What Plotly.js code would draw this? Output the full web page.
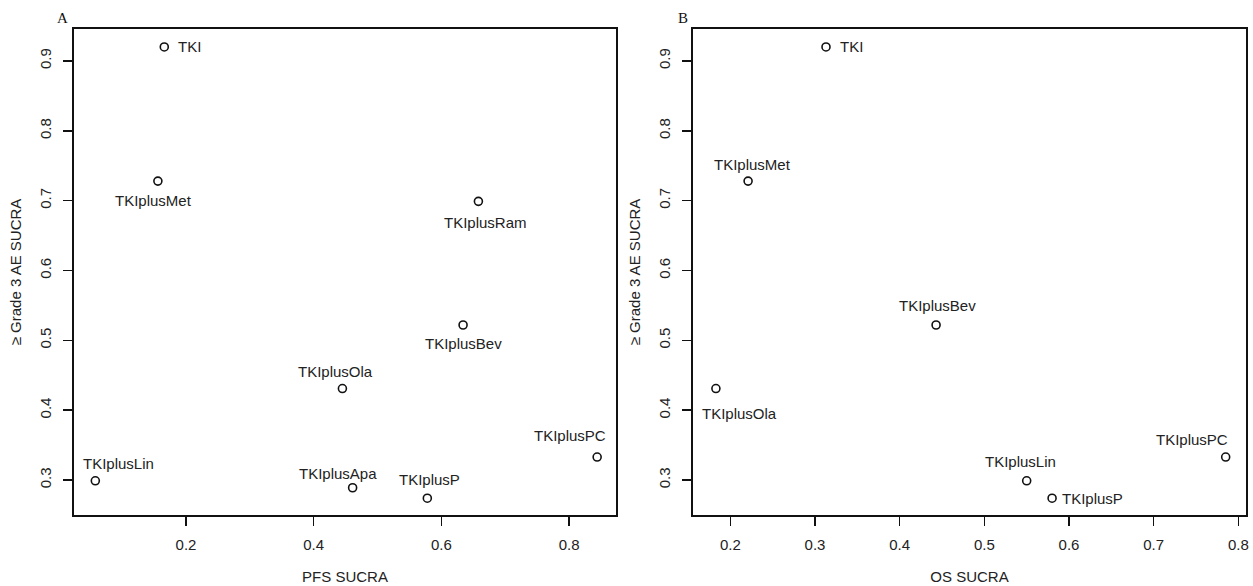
<!DOCTYPE html>
<html>
<head>
<meta charset="utf-8">
<script src="https://cdn.plot.ly/plotly-3.0.1.min.js"></script>
<style>html,body{margin:0;padding:0;background:#fff;}#chart{width:1253px;height:586px;}</style>
</head>
<body>
<div id="chart"></div>
<script>
// Panel A: PFS SUCRA vs >= Grade 3 AE SUCRA
const treatmentsA = ['TKI','TKIplusMet','TKIplusRam','TKIplusBev','TKIplusOla','TKIplusApa','TKIplusP','TKIplusPC','TKIplusLin'];
const pfsSucra   = [0.166, 0.156, 0.658, 0.634, 0.445, 0.461, 0.578, 0.844, 0.058];
const aeSucraA   = [0.920, 0.728, 0.699, 0.522, 0.431, 0.289, 0.274, 0.333, 0.299];

// Panel B: OS SUCRA vs >= Grade 3 AE SUCRA
const treatmentsB = ['TKI','TKIplusMet','TKIplusBev','TKIplusOla','TKIplusLin','TKIplusP','TKIplusPC'];
const osSucra     = [0.313, 0.221, 0.443, 0.183, 0.550, 0.580, 0.785];
const aeSucraB    = [0.920, 0.728, 0.522, 0.431, 0.299, 0.274, 0.333];

const xTicksA = [0.2, 0.4, 0.6, 0.8];
const xTicksB = [0.2, 0.3, 0.4, 0.5, 0.6, 0.7, 0.8];
const yTicks  = [0.3, 0.4, 0.5, 0.6, 0.7, 0.8, 0.9];

// label placement (pixel offsets from each point): [xanchor, xshift, yshift]
const placeA = {
  'TKI':        ['left', 12, 0],
  'TKIplusMet': ['center', -4, -19],
  'TKIplusRam': ['center', 7, -21],
  'TKIplusBev': ['center', 0, -19],
  'TKIplusOla': ['center', -7, 17],
  'TKIplusApa': ['center', -15, 14],
  'TKIplusP':   ['center', 2, 19],
  'TKIplusPC':  ['center', -27, 22],
  'TKIplusLin': ['center', 23, 17]
};
const placeB = {
  'TKI':        ['left', 12, 0],
  'TKIplusMet': ['center', 4, 17],
  'TKIplusBev': ['center', 1, 19],
  'TKIplusOla': ['center', 24, -25],
  'TKIplusLin': ['center', -6, 19],
  'TKIplusP':   ['left', 8, 0],
  'TKIplusPC':  ['center', -34, 18]
};

const txtFont = {family: 'Liberation Sans, Arial, sans-serif', size: 15, color: '#222'};

const markerStyle = {symbol: 'circle-open', size: 8, color: '#111', line: {width: 1.6, color: '#111'}};

const traces = [
  {x: pfsSucra, y: aeSucraA, text: treatmentsA, type: 'scatter', mode: 'markers', xaxis: 'x', yaxis: 'y',
   marker: markerStyle, hoverinfo: 'text+x+y', showlegend: false},
  {x: osSucra, y: aeSucraB, text: treatmentsB, type: 'scatter', mode: 'markers', xaxis: 'x2', yaxis: 'y2',
   marker: markerStyle, hoverinfo: 'text+x+y', showlegend: false}
];

const annotations = [];
treatmentsA.forEach((t, i) => {
  const p = placeA[t];
  annotations.push({x: pfsSucra[i], y: aeSucraA[i], xref: 'x', yref: 'y', text: t, showarrow: false,
    xanchor: p[0], xshift: p[1], yshift: p[2], font: txtFont});
});
treatmentsB.forEach((t, i) => {
  const p = placeB[t];
  annotations.push({x: osSucra[i], y: aeSucraB[i], xref: 'x2', yref: 'y2', text: t, showarrow: false,
    xanchor: p[0], xshift: p[1], yshift: p[2], font: txtFont});
});
annotations.push({x: -0.0102, y: 1.0226, xref: 'paper', yref: 'paper', text: 'A', showarrow: false,
  xanchor: 'center', yanchor: 'middle', font: {family: 'Liberation Serif, Times New Roman, serif', size: 15, color: '#111'}});
annotations.push({x: 0.5196, y: 1.0226, xref: 'paper', yref: 'paper', text: 'B', showarrow: false,
  xanchor: 'center', yanchor: 'middle', font: {family: 'Liberation Serif, Times New Roman, serif', size: 15, color: '#111'}});

const axisCommon = {
  showgrid: false, zeroline: false, showline: true, mirror: true, linecolor: '#111', linewidth: 2,
  ticks: 'outside', ticklen: 9, tickwidth: 1.5, tickcolor: '#111', tickfont: txtFont, ticklabelstandoff: 6
};

const layout = {
  width: 1253, height: 586,
  margin: {l: 74, r: 7, t: 29, b: 71},
  paper_bgcolor: '#fff', plot_bgcolor: '#fff',
  font: txtFont,
  xaxis: Object.assign({}, axisCommon, {domain: [0, 0.4625], range: [0.0246, 0.8736], tickvals: xTicksA,
    ticktext: xTicksA.map(String), title: {text: 'PFS SUCRA', font: txtFont, standoff: 19}}),
  yaxis: Object.assign({}, axisCommon, {domain: [0, 1], range: [0.25, 0.9457], tickvals: yTicks,
    ticktext: yTicks.map(String), tickangle: -90, anchor: 'x',
    title: {text: '≥ Grade 3 AE SUCRA', font: txtFont, standoff: 12}}),
  xaxis2: Object.assign({}, axisCommon, {domain: [0.5282, 1], range: [0.156, 0.809], tickvals: xTicksB,
    ticktext: xTicksB.map(String), anchor: 'y2', title: {text: 'OS SUCRA', font: txtFont, standoff: 19}}),
  yaxis2: Object.assign({}, axisCommon, {domain: [0, 1], range: [0.25, 0.9457], tickvals: yTicks,
    ticktext: yTicks.map(String), tickangle: -90, anchor: 'x2',
    title: {text: '≥ Grade 3 AE SUCRA', font: txtFont, standoff: 12}}),
  annotations: annotations
};

Plotly.newPlot('chart', traces, layout, {displayModeBar: false, staticPlot: true});
</script>
</body>
</html>
